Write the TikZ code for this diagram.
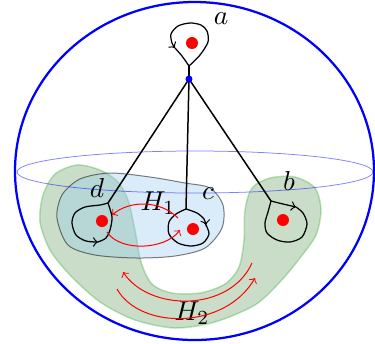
\documentclass[tikz,border=0pt]{standalone}

\begin{document}
\begin{tikzpicture}[x=0.4pt,y=-0.4pt,font=\fontsize{11}{13}\selectfont,
  hole/.style={circle,fill=red,inner sep=0pt,minimum size=4.8pt},
  stem/.style={line width=0.6pt},
  lasso/.style={line width=0.5pt},
  flowarrow/.style={red,line width=0.4pt,->}]
  \useasboundingbox (0,0) rectangle (375,343);

  % the two regions
  \filldraw[fill={rgb,255:red,120;green,170;blue,120},fill opacity=0.4,
            draw=green!60!black,draw opacity=0.25,line width=0.6pt]
    plot[smooth cycle] coordinates {(77,165) (100,170) (118,182) (128,200) (135,230)
      (141,262) (152,284) (172,293) (200,293) (225,284) (239,267) (244,240) (245,210)
      (252,188) (270,178) (295,177) (315,188) (321,210) (316,235) (300,258) (280,282)
      (255,305) (215,322) (175,328) (135,320) (100,302) (70,275) (50,250) (40,222)
      (43,195) (55,174)};
  \filldraw[fill={rgb,255:red,150;green,200;blue,240},fill opacity=0.35,
            draw=black,draw opacity=0.5,line width=0.4pt]
    plot[smooth cycle] coordinates {(57,218) (62,195) (80,179) (110,173) (150,177)
      (185,183) (210,188) (223,205) (222,228) (205,248) (175,256) (137,258) (95,255)
      (68,245)};

  % sphere and equator
  \draw[blue,line width=0.9pt] (194.5,171) ellipse [x radius=179.5,y radius=169];
  \draw[blue,opacity=0.5,line width=0.3pt] (195,172) ellipse [x radius=178,y radius=21];

  \foreach \p/\x/\y in {a/192/43,b/283/220,c/193/229,d/102/221}
    \node[hole] (p\p) at (\x,\y) {};
  \foreach \p/\x/\y in {a/221/19,b/289/181,c/208/194,d/97/188}
    \node (l\p) at (\x,\y) {$\p$};
  \node (h1) at (158,203) {$H_1$};
  \node (h2) at (192,313) {$H_2$};

  \coordinate (aneck) at (189,66);
  \coordinate (bneck) at (271,201);
  \coordinate (cneck) at (186,209);
  \coordinate (dneck) at (108,203);

  % loops
  \draw[lasso,->] plot[smooth] coordinates {(aneck) (200,55) (208,42) (207,31) (201,25)
    (190,23) (178,26) (171,34) (172,43) (175,48)};
  \draw[lasso] plot[smooth] coordinates {(175,48) (182,56) (aneck)};
  \draw[lasso,->] plot[smooth] coordinates {(bneck) (283,204) (296,207)};
  \draw[lasso] plot[smooth] coordinates {(296,207) (303,213) (307,224) (302,237)
    (290,242) (277,240) (267,233) (265,223) (268,212) (bneck)};
  \draw[lasso,->] plot[smooth] coordinates {(cneck) (197,213) (204,219) (206,225)};
  \draw[lasso] plot[smooth] coordinates {(206,225) (209,234) (203,243) (191,246)
    (178,243) (169,234) (169,222) (176,214) (cneck)};
  \draw[lasso,->] plot[smooth] coordinates {(dneck) (100,205) (85,207) (75,213)
    (72,223) (76,235) (86,241) (98,242)};
  \draw[lasso] plot[smooth] coordinates {(98,242) (106,238) (110,230) (112,217)
    (dneck)};

  \foreach \p in {a,b,c,d}
    \draw[stem] (189,79) -- (\p neck);
  \node[circle,fill=blue,inner sep=0pt,minimum size=2.8pt] (base) at (189,79) {};

  % flows
  \draw[flowarrow] (178,218) .. controls (160,200) and (130,200) .. (112,215);
  \draw[flowarrow] (107,232) .. controls (120,252) and (165,250) .. (180,230);
  \draw[flowarrow] (252,263) .. controls (230,312) and (150,312) .. (123,272);
  \draw[flowarrow] (117,289) .. controls (140,330) and (225,330) .. (255,278);
\end{tikzpicture}
\end{document}
